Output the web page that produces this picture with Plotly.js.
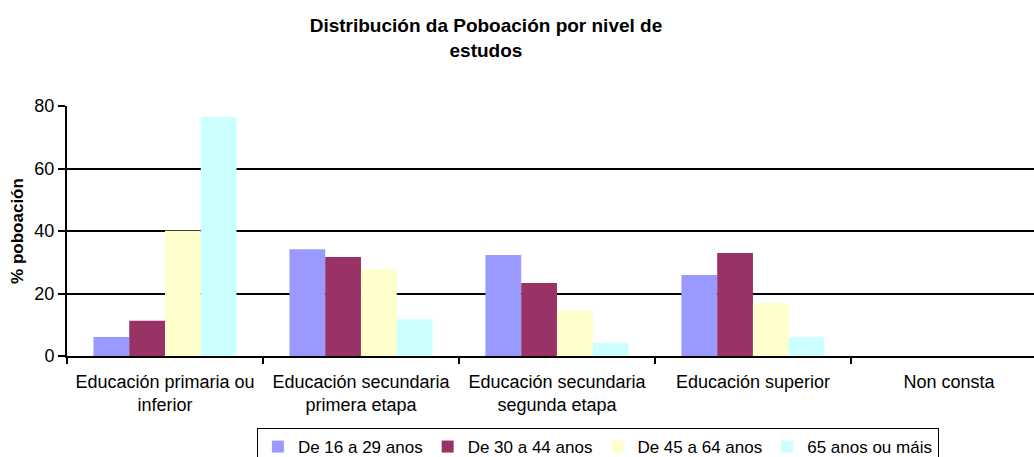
<!DOCTYPE html>
<html>
<head>
<meta charset="utf-8">
<script src="https://cdn.plot.ly/plotly-3.0.1.min.js"></script>
<style>html,body{margin:0;padding:0;background:#fff;}#chart{width:1034px;height:457px;}</style>
</head>
<body>
<div id="chart"></div>
<script>
const categories = [
  "Educación primaria ou<br>inferior",
  "Educación secundaria<br>primera etapa",
  "Educación secundaria<br>segunda etapa",
  "Educación superior",
  "Non consta"
];
const seriesNames = ["De 16 a 29 anos", "De 30 a 44 anos", "De 45 a 64 anos", "65 anos ou máis"];
const s16_29 = [6.1, 34.2, 32.3, 25.9, 0];
const s30_44 = [11.3, 31.7, 23.4, 33.0, 0];
const s45_64 = [40.1, 27.8, 14.4, 17.0, 0];
const s65 = [76.5, 11.8, 4.2, 6.1, 0];
const colors = ["#9999FF", "#993366", "#FFFFCC", "#CCFFFF"];
const yTicks = [0, 20, 40, 60, 80];

const allSeries = [s16_29, s30_44, s45_64, s65];
const traces = allSeries.map((vals, i) => ({
  type: "bar",
  name: seriesNames[i],
  x: categories,
  y: vals,
  marker: { color: colors[i], line: { width: 0 } },
  hoverinfo: "skip"
}));

const font = "Liberation Sans, Arial, sans-serif";
const layout = {
  width: 1034,
  height: 457,
  margin: { l: 67, r: 0, t: 106, b: 101, autoexpand: false },
  paper_bgcolor: "#fff",
  plot_bgcolor: "#fff",
  font: { family: font, size: 17, color: "#000" },
  barmode: "group",
  bargap: 0.27,
  bargroupgap: 0,
  title: {
    text: "<b>Distribución da Poboación por nivel de<br>estudos</b>",
    font: { family: font, size: 19, color: "#000" },
    x: 0.47, xanchor: "center",
    y: 0.929, yanchor: "middle"
  },
  xaxis: {
    type: "category",
    range: [-0.5, 4.434],
    showline: true, linecolor: "#000", linewidth: 2,
    ticks: "outside", tickson: "boundaries", ticklen: 6, tickwidth: 2, tickcolor: "#000",
    ticklabelstandoff: 8,
    tickfont: { family: font, size: 18, color: "#000" },
    showgrid: false, zeroline: false
  },
  yaxis: {
    range: [0, 80],
    tickvals: yTicks,
    ticktext: yTicks.map(String),
    showline: true, linecolor: "#000", linewidth: 2,
    ticks: "outside", ticklen: 7, tickwidth: 2, tickcolor: "#000",
    showgrid: true, gridcolor: "#000", gridwidth: 2,
    zeroline: false,
    tickfont: { family: font, size: 18, color: "#000" },
    title: { text: "<b>% poboación</b>", font: { family: font, size: 17, color: "#000" }, standoff: 6 }
  },
  legend: {
    orientation: "h",
    x: 0.549, xanchor: "center",
    y: -0.288, yanchor: "top",
    bordercolor: "#000", borderwidth: 1,
    font: { family: font, size: 17, color: "#000" },
    itemclick: false
  },
  showlegend: true
};

Plotly.newPlot("chart", traces, layout, { staticPlot: true, displayModeBar: false });
</script>
</body>
</html>
